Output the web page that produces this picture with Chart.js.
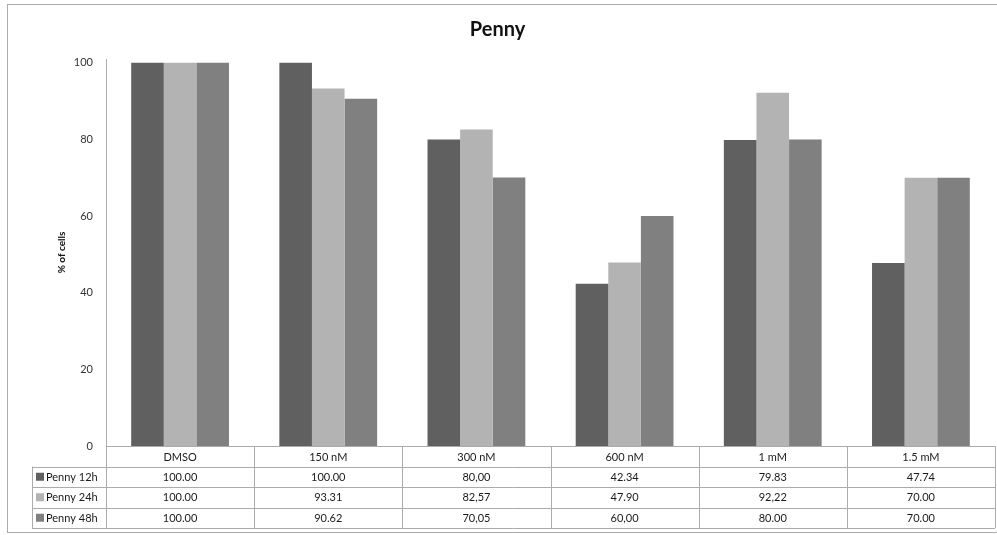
<!DOCTYPE html>
<html>
<head>
<meta charset="utf-8">
<script src="https://cdn.jsdelivr.net/npm/chart.js@4.4.1/dist/chart.umd.min.js"></script>
<style>
    html, body { margin: 0; padding: 0; background: #fff; }
    #wrap { position: relative; width: 997px; height: 535px; }
</style>
</head>
<body>
<div id="wrap"><canvas id="chart" width="997" height="535"></canvas></div>
<script>
const categories = ["DMSO", "150 nM", "300 nM", "600 nM", "1 mM", "1.5 mM"];
const seriesNames = ["Penny 12h", "Penny 24h", "Penny 48h"];
const penny12h = [100, 100, 80, 42.34, 79.83, 47.74];
const penny24h = [100, 93.31, 82.57, 47.90, 92.22, 70];
const penny48h = [100, 90.62, 70.05, 60, 80, 70];
// how the table prints them (the source mixes commas and dots)
const label12h = ["100.00", "100.00", "80,00", "42.34", "79.83", "47.74"];
const label24h = ["100.00", "93.31", "82,57", "47.90", "92,22", "70.00"];
const label48h = ["100.00", "90.62", "70,05", "60,00", "80.00", "70.00"];
const yTicks = [0, 20, 40, 60, 80, 100];

const colors = ["#606060", "#b3b3b3", "#808080"];
const lineColor = "#ababab";
const fontFamily = "Lato, 'Open Sans', sans-serif";

const seriesValues = [penny12h, penny24h, penny48h];
const seriesLabels = [label12h, label24h, label48h];

// draws the frame and the data table under the x axis
const tablePlugin = {
    id: "dataTable",
    afterDraw(chart) {
        const ctx = chart.ctx;
        const x = chart.scales.x;
        const top = chart.chartArea.bottom;
        const rowH = 20.5;
        const left = chart.chartArea.left;
        const right = chart.chartArea.right;
        const step = (right - left) / categories.length;
        const legendLeft = 32;

        ctx.save();
        ctx.strokeStyle = lineColor;
        ctx.lineWidth = 1;

        // outer frame
        ctx.strokeRect(7.5, 4.5, 1000, 528);

        ctx.beginPath();
        for (let r = 1; r <= 4; r++) {
            const y = Math.round(top + r * rowH) + 0.5;
            ctx.moveTo(legendLeft, y);
            ctx.lineTo(right, y);
        }
        for (let c = 0; c <= categories.length; c++) {
            const cx = Math.round(left + c * step) + 0.5;
            ctx.moveTo(cx, top);
            ctx.lineTo(cx, top + 4 * rowH);
        }
        ctx.moveTo(legendLeft + 0.5, top + rowH);
        ctx.lineTo(legendLeft + 0.5, top + 4 * rowH);
        ctx.stroke();

        ctx.font = "11px " + fontFamily;
        ctx.textBaseline = "middle";
        for (let s = 0; s < seriesNames.length; s++) {
            const cy = top + (s + 1.5) * rowH;
            ctx.fillStyle = colors[s];
            ctx.fillRect(legendLeft + 4, cy - 4, 8, 8);
            ctx.fillStyle = "#1a1a1a";
            ctx.textAlign = "left";
            ctx.fillText(seriesNames[s], legendLeft + 14, cy + 0.5);
            ctx.textAlign = "center";
            for (let c = 0; c < categories.length; c++) {
                ctx.fillText(seriesLabels[s][c], x.getPixelForValue(c), cy + 0.5);
            }
        }
        ctx.restore();
    }
};

new Chart(document.getElementById("chart"), {
    type: "bar",
    data: {
        labels: categories,
        datasets: seriesNames.map((name, i) => ({
            label: name,
            data: seriesValues[i],
            backgroundColor: colors[i],
            borderWidth: 0,
            categoryPercentage: 0.66,
            barPercentage: 1
        }))
    },
    options: {
        responsive: false,
        animation: false,
        devicePixelRatio: 1,
        layout: { padding: { left: 0, right: 2, top: 0, bottom: 0 } },
        plugins: {
            legend: { display: false },
            tooltip: { enabled: false },
            title: {
                display: true,
                text: "Penny",
                color: "#111",
                font: { family: fontFamily, size: 20, weight: "bold" },
                padding: { top: 18, bottom: 17 }
            }
        },
        scales: {
            x: {
                grid: { display: false, drawTicks: false },
                border: { display: true, color: lineColor },
                ticks: {
                    color: "#1a1a1a",
                    padding: 5,
                    maxRotation: 0,
                    font: { family: fontFamily, size: 11 }
                },
                afterFit(scale) { scale.height = 535 - 446; }
            },
            y: {
                min: 0,
                max: 101,
                grid: { display: false, drawTicks: false },
                border: { display: true, color: lineColor },
                afterBuildTicks(scale) {
                    scale.ticks = yTicks.map(v => ({ value: v }));
                },
                ticks: {
                    color: "#333",
                    padding: 13,
                    font: { family: fontFamily, size: 11 }
                },
                title: {
                    display: true,
                    text: "% of cells",
                    color: "#111",
                    font: { family: fontFamily, size: 10, weight: "bold" },
                    padding: { top: 56, bottom: 0 }
                },
                afterFit(scale) { scale.width = 106; }
            }
        }
    },
    plugins: [tablePlugin]
});
</script>
</body>
</html>
